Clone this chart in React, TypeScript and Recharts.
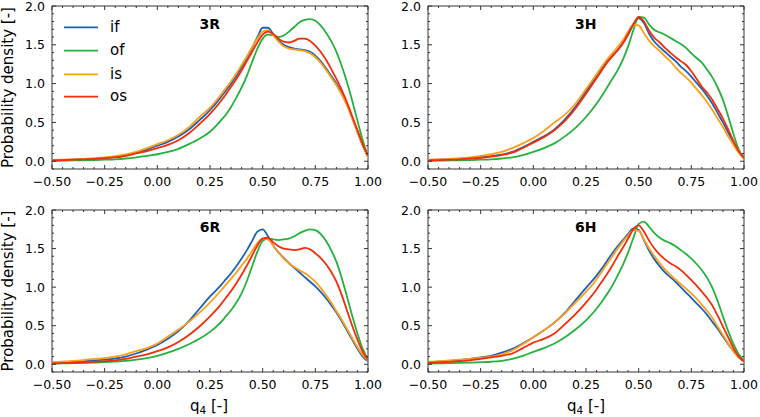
import React from 'react';
import { LineChart, Line, XAxis, YAxis, ReferenceArea } from 'recharts';

const qValues = [-0.5, -0.45, -0.4, -0.35, -0.3, -0.25, -0.2, -0.15, -0.1, -0.05, 0, 0.05, 0.1, 0.15, 0.2, 0.25, 0.3, 0.325, 0.35, 0.375, 0.4, 0.425, 0.45, 0.475, 0.5, 0.525, 0.55, 0.575, 0.6, 0.625, 0.65, 0.675, 0.7, 0.725, 0.75, 0.775, 0.8, 0.825, 0.85, 0.875, 0.9, 0.925, 0.95, 0.975, 1.0];

// 3R
const if3R = [0.01,0.015,0.02,0.025,0.03,0.04,0.055,0.075,0.11,0.15, 0.2,0.25,0.32,0.41,0.53,0.66,0.82, 0.91,1.0,1.1,1.21,1.33,1.46,1.6,1.72, 1.72,1.64,1.56,1.5,1.47,1.45,1.44,1.43,1.41,1.36, 1.29,1.2,1.1,1.0,0.88,0.74,0.56,0.38,0.2,0.06];
const of3R = [0.005,0.007,0.01,0.012,0.015,0.02,0.025,0.035,0.05,0.07, 0.09,0.12,0.16,0.22,0.29,0.38,0.52, 0.6,0.7,0.82,0.95,1.1,1.28,1.45,1.58, 1.63,1.62,1.6,1.62,1.67,1.73,1.79,1.82,1.83,1.81, 1.75,1.66,1.55,1.41,1.23,1.02,0.78,0.52,0.27,0.06];
const is3R = [0.015,0.02,0.025,0.03,0.04,0.05,0.065,0.09,0.12,0.17, 0.22,0.27,0.34,0.44,0.57,0.69,0.85, 0.94,1.03,1.13,1.24,1.35,1.47,1.58,1.67, 1.69,1.62,1.54,1.48,1.45,1.44,1.43,1.42,1.39,1.34, 1.27,1.18,1.08,0.98,0.86,0.72,0.55,0.37,0.2,0.05];
const os3R = [0.01,0.015,0.02,0.025,0.03,0.04,0.05,0.07,0.1,0.13, 0.17,0.21,0.27,0.36,0.48,0.61,0.77, 0.86,0.96,1.06,1.17,1.29,1.41,1.53,1.63, 1.67,1.64,1.58,1.54,1.53,1.55,1.58,1.58,1.55,1.49, 1.41,1.31,1.19,1.06,0.92,0.76,0.58,0.4,0.22,0.07];

// 3H
const if3H = [0.015,0.02,0.025,0.03,0.04,0.05,0.065,0.085,0.12,0.18, 0.25,0.32,0.41,0.54,0.7,0.9,1.1, 1.2,1.29,1.36,1.43,1.52,1.63,1.76,1.84, 1.78,1.64,1.54,1.47,1.41,1.35,1.29,1.22,1.16,1.09, 1.01,0.93,0.84,0.74,0.62,0.5,0.37,0.24,0.12,0.04];
const of3H = [0.005,0.007,0.01,0.012,0.015,0.02,0.025,0.035,0.05,0.08, 0.12,0.17,0.23,0.32,0.43,0.57,0.74, 0.84,0.95,1.06,1.17,1.31,1.48,1.69,1.86, 1.85,1.76,1.69,1.66,1.63,1.59,1.55,1.51,1.46,1.39, 1.33,1.27,1.18,1.08,0.95,0.79,0.58,0.35,0.15,0.05];
const is3H = [0.02,0.025,0.03,0.04,0.05,0.07,0.09,0.12,0.17,0.23, 0.3,0.39,0.5,0.6,0.74,0.93,1.12, 1.22,1.31,1.39,1.47,1.56,1.67,1.76,1.75, 1.65,1.55,1.48,1.42,1.35,1.29,1.21,1.14,1.08,1.01, 0.93,0.85,0.76,0.66,0.55,0.44,0.32,0.21,0.11,0.03];
const os3H = [0.01,0.015,0.02,0.025,0.035,0.045,0.06,0.08,0.11,0.17, 0.24,0.31,0.4,0.52,0.68,0.87,1.07, 1.17,1.27,1.35,1.43,1.52,1.64,1.77,1.86, 1.8,1.68,1.59,1.53,1.46,1.4,1.34,1.29,1.24,1.16, 1.06,0.96,0.88,0.79,0.67,0.55,0.41,0.26,0.13,0.04];

// 6R
const if6R = [0.02,0.025,0.03,0.04,0.05,0.06,0.075,0.1,0.14,0.19, 0.25,0.33,0.43,0.56,0.72,0.88,1.02, 1.1,1.18,1.27,1.37,1.48,1.6,1.72,1.75, 1.66,1.54,1.45,1.38,1.31,1.25,1.19,1.13,1.07,1.01, 0.94,0.86,0.77,0.67,0.56,0.44,0.32,0.2,0.1,0.04];
const of6R = [0.01,0.012,0.015,0.018,0.022,0.027,0.035,0.045,0.06,0.08, 0.11,0.15,0.2,0.26,0.33,0.42,0.54, 0.62,0.7,0.8,0.92,1.08,1.27,1.46,1.6, 1.63,1.62,1.61,1.62,1.63,1.66,1.7,1.73,1.75,1.74, 1.69,1.6,1.48,1.33,1.12,0.88,0.63,0.4,0.2,0.06];
const is6R = [0.03,0.035,0.045,0.055,0.07,0.08,0.1,0.13,0.17,0.21, 0.27,0.36,0.45,0.55,0.67,0.8,0.95, 1.03,1.11,1.19,1.28,1.37,1.47,1.57,1.63, 1.62,1.54,1.45,1.37,1.31,1.26,1.22,1.18,1.13,1.07, 0.99,0.9,0.8,0.69,0.58,0.46,0.34,0.22,0.12,0.05];
const os6R = [0.01,0.015,0.02,0.025,0.03,0.04,0.05,0.07,0.1,0.13, 0.17,0.22,0.29,0.38,0.49,0.62,0.77, 0.86,0.95,1.05,1.16,1.28,1.41,1.54,1.63, 1.64,1.58,1.53,1.5,1.49,1.48,1.49,1.51,1.49,1.44, 1.38,1.3,1.2,1.07,0.9,0.7,0.5,0.32,0.16,0.06];

// 6H
const if6H = [0.03,0.035,0.045,0.055,0.07,0.09,0.11,0.15,0.2,0.27, 0.35,0.44,0.54,0.67,0.83,0.99,1.15, 1.24,1.34,1.44,1.53,1.61,1.69,1.76,1.74, 1.61,1.47,1.36,1.27,1.19,1.13,1.07,1.0,0.93,0.86, 0.79,0.72,0.64,0.55,0.46,0.36,0.26,0.17,0.09,0.04];
const of6H = [0.01,0.012,0.015,0.018,0.022,0.027,0.033,0.045,0.07,0.11, 0.16,0.21,0.27,0.35,0.45,0.57,0.72, 0.81,0.91,1.02,1.15,1.29,1.45,1.64,1.82, 1.85,1.78,1.7,1.64,1.6,1.57,1.53,1.48,1.43,1.37, 1.3,1.22,1.12,0.99,0.82,0.62,0.43,0.26,0.13,0.05];
const is6H = [0.03,0.04,0.05,0.06,0.07,0.085,0.1,0.13,0.18,0.26, 0.35,0.44,0.54,0.66,0.8,0.94,1.1, 1.2,1.3,1.4,1.5,1.59,1.67,1.74,1.73, 1.62,1.5,1.4,1.31,1.23,1.16,1.1,1.04,0.98,0.92, 0.85,0.77,0.69,0.6,0.49,0.38,0.27,0.17,0.09,0.03];
const os6H = [0.02,0.025,0.03,0.04,0.05,0.07,0.09,0.11,0.14,0.21, 0.28,0.33,0.4,0.52,0.65,0.8,0.97, 1.07,1.17,1.28,1.4,1.51,1.63,1.75,1.8, 1.72,1.6,1.5,1.42,1.36,1.31,1.27,1.22,1.16,1.09, 1.02,0.94,0.86,0.76,0.63,0.49,0.35,0.21,0.1,0.04];

const seriesNames = ['if', 'of', 'is', 'os'];
const seriesColors = ['#1a63b3', '#25b23c', '#ff9e1b', '#f32c0b'];
const panelTitles = ['3R', '3H', '6R', '6H'];

const xMajorTicks = [-0.5, -0.25, 0, 0.25, 0.5, 0.75, 1.0];
const xMinorTicks = [-0.5, -0.45, -0.4, -0.35, -0.3, -0.25, -0.2, -0.15, -0.1, -0.05, 0, 0.05, 0.1, 0.15, 0.2, 0.25, 0.3, 0.35, 0.4, 0.45, 0.5, 0.55, 0.6, 0.65, 0.7, 0.75, 0.8, 0.85, 0.9, 0.95, 1.0];
const yMajorTicks = [0, 0.5, 1.0, 1.5, 2.0];
const yMinorTicks = [-0.1, 0, 0.1, 0.2, 0.3, 0.4, 0.5, 0.6, 0.7, 0.8, 0.9, 1.0, 1.1, 1.2, 1.3, 1.4, 1.5, 1.6, 1.7, 1.8, 1.9, 2.0];

const yLabel = 'Probability density [-]';
const xLabelMain = 'q';
const xLabelSub = '4';
const xLabelUnit = ' [-]';

const FONT = 'DejaVu Sans';
const FRAME = '#333';
const X_DOMAIN: [number, number] = [-0.5, 1];
const Y_DOMAIN: [number, number] = [-0.1, 2];

const buildRows = (a: number[], b: number[], c: number[], d: number[]) =>
  qValues.map((q, i) => ({ q, if: a[i], of: b[i], is: c[i], os: d[i] }));

const panelRows = [
  buildRows(if3R, of3R, is3R, os3R),
  buildRows(if3H, of3H, is3H, os3H),
  buildRows(if6R, of6R, is6R, os6R),
  buildRows(if6H, of6H, is6H, os6H),
];

const isMajor = (v: number, majors: number[]) => majors.some((m) => Math.abs(m - v) < 1e-6);

const fmtX = (v: number) => (v < -1e-9 ? '\u2212' : '') + Math.abs(v).toFixed(2);
const fmtY = (v: number) => v.toFixed(1);

type Geo = { top: number; bottom: number; left: number; right: number };

const makeXTick = (g: Geo) => (props: any) => {
  const { x, payload } = props;
  const major = isMajor(payload.value, xMajorTicks);
  const len = major ? 4 : 2;
  return (
    <g>
      <line x1={x} x2={x} y1={g.bottom} y2={g.bottom - len} stroke={FRAME} strokeWidth={1} />
      <line x1={x} x2={x} y1={g.top} y2={g.top + len} stroke={FRAME} strokeWidth={1} />
      {major && (
        <text x={x} y={g.bottom + 8} dy="0.71em" textAnchor="middle" fontFamily={FONT} fontSize={12.5} fill="#000">
          {fmtX(payload.value)}
        </text>
      )}
    </g>
  );
};

const makeYTick = (g: Geo) => (props: any) => {
  const { y, payload } = props;
  const major = isMajor(payload.value, yMajorTicks);
  const len = major ? 4 : 2;
  return (
    <g>
      <line x1={g.left} x2={g.left + len} y1={y} y2={y} stroke={FRAME} strokeWidth={1} />
      <line x1={g.right} x2={g.right - len} y1={y} y2={y} stroke={FRAME} strokeWidth={1} />
      {major && (
        <text x={g.left - 7} y={y} dy="0.36em" textAnchor="end" fontFamily={FONT} fontSize={12.5} fill="#000">
          {fmtY(payload.value)}
        </text>
      )}
    </g>
  );
};

type PanelProps = { rows: any[]; px: number; py: number; w: number; h: number; yAxisW: number };

function Panel({ rows, px, py, w, h, yAxisW }: PanelProps) {
  const mTop = 8;
  const mRight = 16;
  const xAxisH = 24;
  const g: Geo = { top: mTop, bottom: mTop + h, left: yAxisW, right: yAxisW + w };
  return (
    <div style={{ position: 'absolute', left: px - yAxisW, top: py - mTop }}>
      <LineChart
        width={yAxisW + w + mRight}
        height={mTop + h + xAxisH}
        data={rows}
        margin={{ top: mTop, right: mRight, bottom: 0, left: 0 }}
      >
        <XAxis
          xAxisId="x"
          dataKey="q"
          type="number"
          domain={X_DOMAIN}
          allowDataOverflow
          ticks={xMinorTicks}
          interval={0}
          tickLine={false}
          axisLine={false}
          height={xAxisH}
          tick={makeXTick(g)}
        />
        <YAxis
          yAxisId="y"
          type="number"
          domain={Y_DOMAIN}
          allowDataOverflow
          ticks={yMinorTicks}
          interval={0}
          tickLine={false}
          axisLine={false}
          width={yAxisW}
          tick={makeYTick(g)}
        />
        <ReferenceArea
          xAxisId="x"
          yAxisId="y"
          x1={X_DOMAIN[0]}
          x2={X_DOMAIN[1]}
          y1={Y_DOMAIN[0]}
          y2={Y_DOMAIN[1]}
          fill="none"
          fillOpacity={0}
          stroke={FRAME}
          strokeWidth={1}
          strokeOpacity={1}
          ifOverflow="visible"
        />
        {seriesNames.map((s, i) => (
          <Line
            key={s}
            xAxisId="x"
            yAxisId="y"
            dataKey={s}
            type="monotone"
            stroke={seriesColors[i]}
            strokeWidth={1.8}
            dot={false}
            activeDot={false}
            isAnimationActive={false}
          />
        ))}
      </LineChart>
    </div>
  );
}

const panelGeom = [
  { px: 52, py: 6, w: 316, h: 163, yAxisW: 52, tx: 209.7, ty: 29.3 },
  { px: 428, py: 6, w: 316, h: 163, yAxisW: 48, tx: 585.8, ty: 29.3 },
  { px: 52, py: 210, w: 316, h: 162, yAxisW: 52, tx: 210, ty: 232 },
  { px: 428, py: 210, w: 316, h: 162, yAxisW: 48, tx: 585.8, ty: 232 },
];

const legendY = [27.3, 50.7, 74.3, 96.7];

export default function App() {
  return (
    <div style={{ position: 'absolute', left: 0, top: 0, width: 760, height: 417, background: '#fff', overflow: 'hidden' }}>
      {panelGeom.map((g, i) => (
        <Panel key={i} rows={panelRows[i]} px={g.px} py={g.py} w={g.w} h={g.h} yAxisW={g.yAxisW} />
      ))}
      <svg width={760} height={417} style={{ position: 'absolute', left: 0, top: 0, pointerEvents: 'none' }}>
        {panelGeom.map((g, i) => (
          <text key={i} x={g.tx} y={g.ty} textAnchor="middle" fontFamily={FONT} fontWeight="bold" fontSize={14} fill="#000">
            {panelTitles[i]}
          </text>
        ))}
        {seriesNames.map((s, i) => (
          <g key={s}>
            <line x1={64} x2={98} y1={legendY[i]} y2={legendY[i]} stroke={seriesColors[i]} strokeWidth={1.8} />
            <text x={110} y={legendY[i] + 4.5} fontFamily={FONT} fontSize={15} fill="#000">{s}</text>
          </g>
        ))}
        <text transform="translate(13.3,87.5) rotate(-90)" textAnchor="middle" fontFamily={FONT} fontSize={15} fill="#000">{yLabel}</text>
        <text transform="translate(13.3,291) rotate(-90)" textAnchor="middle" fontFamily={FONT} fontSize={15} fill="#000">{yLabel}</text>
        {[209, 586].map((cx) => (
          <text key={cx} x={cx} y={411} textAnchor="middle" fontFamily={FONT} fontSize={15} fill="#000">
            {xLabelMain}
            <tspan fontSize={10.5} dy={3}>{xLabelSub}</tspan>
            <tspan dy={-3}>{xLabelUnit}</tspan>
          </text>
        ))}
      </svg>
    </div>
  );
}
